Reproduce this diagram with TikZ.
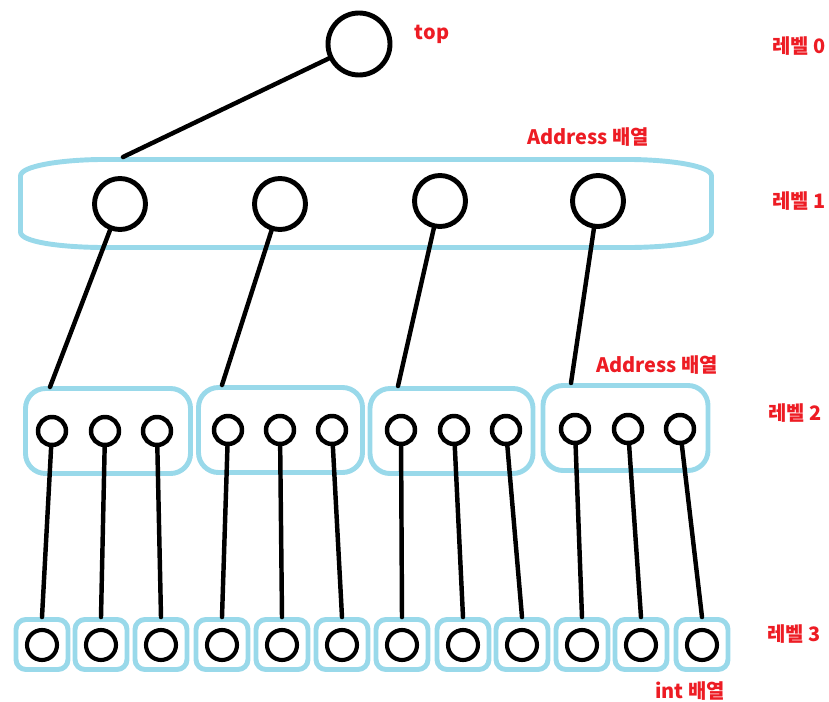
\documentclass[tikz,border=0pt]{standalone}
\usepackage{fontspec}
\newfontfamily\kofont{Noto Sans CJK KR}
\usepackage{tikz}
\definecolor{arrblue}{HTML}{99D9EA}
\definecolor{lvred}{HTML}{ED1C24}
\tikzstyle{link} = [line width=3.8pt, line cap=round]
\tikzstyle{topdot} = [circle, draw, line width=4.2pt, inner sep=0pt, minimum size=1.86cm]
\tikzstyle{adot} = [circle, draw, line width=4.2pt, inner sep=0pt, minimum size=1.53cm]
\tikzstyle{bdot} = [circle, draw, line width=3.8pt, inner sep=0pt, minimum size=0.84cm]
\tikzstyle{cdot} = [circle, draw, line width=3.5pt, inner sep=0pt, minimum size=0.9cm]
\tikzstyle{bbox} = [draw=arrblue, line width=4.2pt, rounded corners=0.6cm, minimum width=4.95cm, minimum height=2.55cm]
\tikzstyle{cbox} = [draw=arrblue, line width=4.2pt, rounded corners=0.3cm, minimum width=1.56cm, minimum height=1.5cm]
\tikzstyle{lbl} = [text=lvred, font=\kofont\bfseries\fontsize{17}{20}\selectfont, inner sep=0pt]

\begin{document}
\begin{tikzpicture}[x=0.03cm, y=-0.03cm]
	\useasboundingbox (0,0) rectangle (829,702);
	% level 1 array
	\draw[draw=arrblue, line width=4.2pt] (20.5,176) .. controls (20.5,166) and (60,160) .. (100,159.5) -- (632,159.5) .. controls (672,160) and (711.5,166) .. (711.5,176) -- (711.5,232) .. controls (711.5,242) and (672,247) .. (632,247.5) -- (100,247.5) .. controls (60,247) and (20.5,242) .. (20.5,232) -- cycle;
	% level 2 arrays
	\node[bbox] (b1) at (108,431) {};
	\node[bbox, minimum width=4.92cm] (b2) at (280.5,430) {};
	\node[bbox, minimum width=4.89cm] (b3) at (451.5,431) {};
	\node[bbox] (b4) at (625.5,428) {};
	% level 3 arrays
	\node[cbox] (d1) at (42,644.5) {};
	\node[cbox] (d2) at (101,644.5) {};
	\node[cbox] (d3) at (161,644.5) {};
	\node[cbox] (d4) at (222,644.5) {};
	\node[cbox] (d5) at (282,644.5) {};
	\node[cbox] (d6) at (342,644.5) {};
	\node[cbox] (d7) at (402,644.5) {};
	\node[cbox] (d8) at (463,644.5) {};
	\node[cbox] (d9) at (522,644.5) {};
	\node[cbox] (d10) at (582,644.5) {};
	\node[cbox] (d11) at (641,644.5) {};
	\node[cbox] (d12) at (702,644.5) {};

	% dots
	\node[topdot] (top) at (359,44) {};
	\node[adot] (a1) at (120,204) {};
	\node[adot] (a2) at (280,204) {};
	\node[adot] (a3) at (440,201) {};
	\node[adot] (a4) at (598,201) {};
	\node[bdot] (c1) at (52,431) {};
	\node[bdot] (c2) at (105,431) {};
	\node[bdot] (c3) at (157,431) {};
	\node[bdot] (c4) at (228,430) {};
	\node[bdot] (c5) at (280,430) {};
	\node[bdot] (c6) at (332,430) {};
	\node[bdot] (c7) at (401,430) {};
	\node[bdot] (c8) at (454,430) {};
	\node[bdot] (c9) at (506,430) {};
	\node[bdot] (c10) at (575,429) {};
	\node[bdot] (c11) at (628,429) {};
	\node[bdot] (c12) at (680,429) {};
	\node[cdot] (e1) at (42,645) {};
	\node[cdot] (e2) at (101,645) {};
	\node[cdot] (e3) at (161,645) {};
	\node[cdot] (e4) at (222,645) {};
	\node[cdot] (e5) at (282,645) {};
	\node[cdot] (e6) at (342,645) {};
	\node[cdot] (e7) at (402,645) {};
	\node[cdot] (e8) at (463,645) {};
	\node[cdot] (e9) at (522,645) {};
	\node[cdot] (e10) at (582,645) {};
	\node[cdot] (e11) at (641,645) {};
	\node[cdot] (e12) at (702,645) {};

	% where the links meet the arrays
	\coordinate (hook0) at (123,157);
	\coordinate (hook1) at (50,387);
	\coordinate (hook2) at (222,385);
	\coordinate (hook3) at (398,386);
	\coordinate (hook4) at (571,383);

	\draw[link] (top) -- (hook0);
	\draw[link] (a1) -- (hook1);
	\draw[link] (a2) -- (hook2);
	\draw[link] (a3) -- (hook3);
	\draw[link] (a4) -- (hook4);
	\draw[link] (c1) -- (d1.north);
	\draw[link] (c2) -- (d2.north);
	\draw[link] (c3) -- (d3.north);
	\draw[link] (c4) -- (d4.north);
	\draw[link] (c5) -- (d5.north);
	\draw[link] (c6) -- (d6.north);
	\draw[link] (c7) -- (d7.north);
	\draw[link] (c8) -- (d8.north);
	\draw[link] (c9) -- (d9.north);
	\draw[link] (c10) -- (d10.north);
	\draw[link] (c11) -- (d11.north);
	\draw[link] (c12) -- (d12.north);

	% labels
	\node[lbl] (toplbl) at (432,34) {top};
	\node[lbl] (addr1) at (588,137) {Address 배열};
	\node[lbl] (addr2) at (657,365) {Address 배열};
	\node[lbl] (intarr) at (690,691) {int 배열};
	\node[lbl] (lv0) at (799,46) {레벨 0};
	\node[lbl] (lv1) at (799,201) {레벨 1};
	\node[lbl] (lv2) at (795,413) {레벨 2};
	\node[lbl] (lv3) at (794,634) {레벨 3};
\end{tikzpicture}
\end{document}
